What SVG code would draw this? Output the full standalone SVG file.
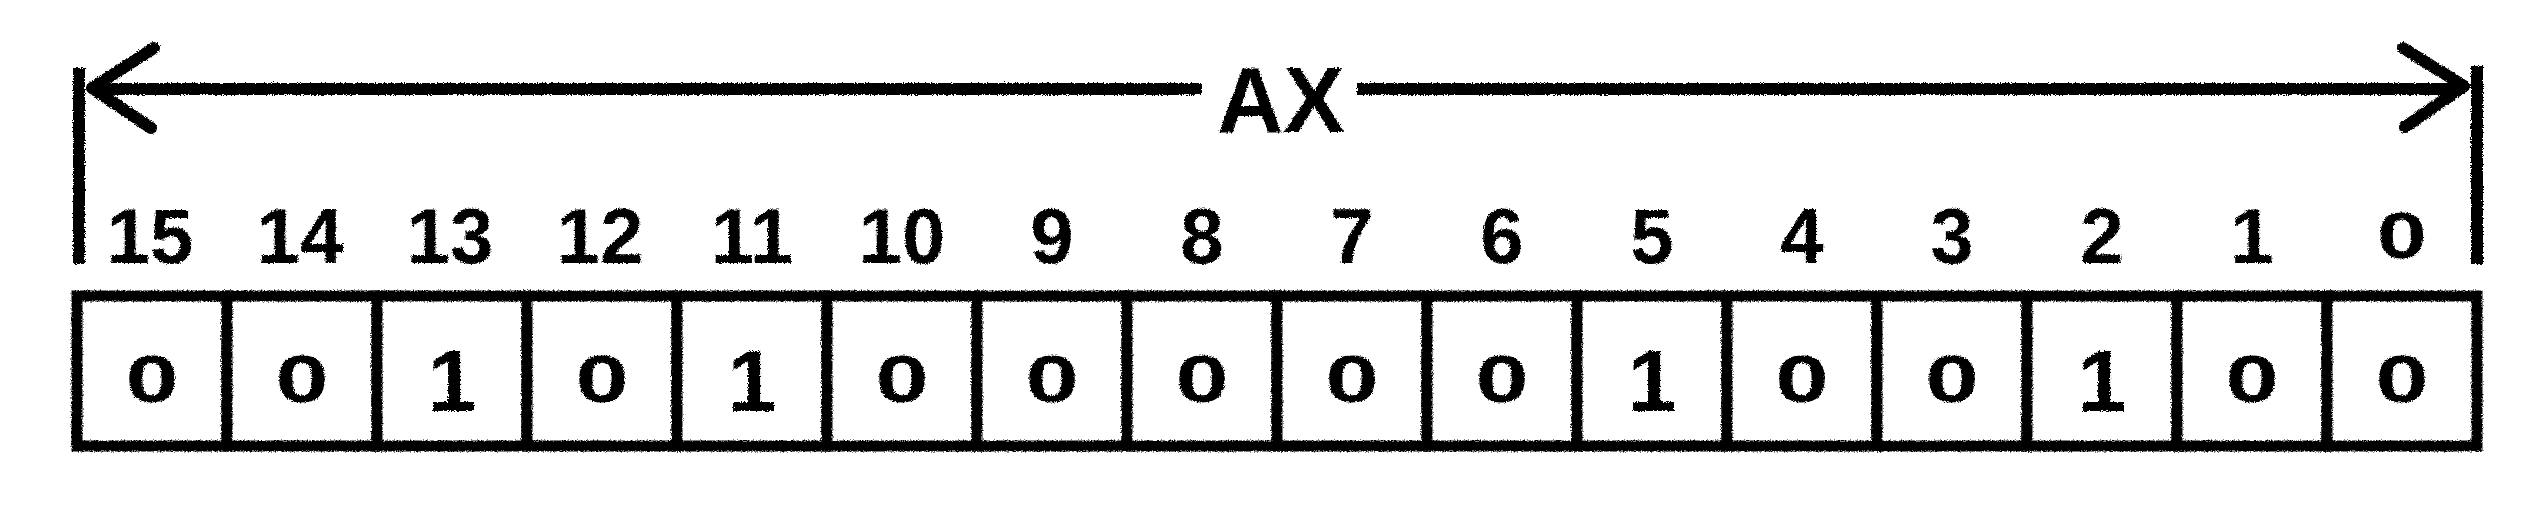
<svg xmlns="http://www.w3.org/2000/svg" width="2536" height="516" viewBox="0 0 2536 516">
<style>
.bg{fill:#ffffff}
.ln{stroke:#000;stroke-width:12;fill:none;stroke-linecap:butt}
.ah{stroke:#000;stroke-width:12;fill:none;stroke-linecap:round;stroke-linejoin:round}
.cell{fill:#fff;stroke:#000;stroke-width:11}
.lbl{font-family:"Liberation Sans",Arial,sans-serif;font-weight:bold;font-size:78px;fill:#000;text-anchor:middle}
.lbl0{font-family:"Liberation Sans",Arial,sans-serif;font-weight:bold;font-size:64px;fill:#000;text-anchor:middle}
.v1{font-family:"Liberation Sans",Arial,sans-serif;font-weight:bold;font-size:88px;fill:#000;text-anchor:middle}
.v0{font-family:"Liberation Sans",Arial,sans-serif;font-weight:bold;font-size:66px;fill:#000;text-anchor:middle}
.title{font-family:"Liberation Sans",Arial,sans-serif;font-weight:bold;font-size:92px;fill:#000;text-anchor:middle}
</style>
<defs>
<filter id="rough" filterUnits="userSpaceOnUse" x="0" y="0" width="2536" height="516">
<feTurbulence type="fractalNoise" baseFrequency="0.7" numOctaves="2" seed="4" result="n"/>
<feDisplacementMap in="SourceGraphic" in2="n" scale="4" xChannelSelector="R" yChannelSelector="G"/>
</filter>
</defs>
<rect class="bg" x="0" y="0" width="2536" height="516"/>
<g filter="url(#rough)">
<g id="connectors">
<line class="ln" x1="79" y1="68" x2="79" y2="264"/>
<line class="ln" x1="2477" y1="66" x2="2477" y2="264"/>
<line class="ln" x1="92" y1="89" x2="1202" y2="89"/>
<line class="ln" x1="1357" y1="89" x2="2462" y2="89"/>
<polyline class="ah" points="154,48 92,88 151,128"/>
<polyline class="ah" points="2403,48 2464,86 2405,127"/>
</g>
<g id="title"><text class="title" x="1281" y="132">AX</text></g>
<g id="bit15"><rect class="cell" x="77" y="296" width="150" height="150"/><text class="lbl" x="150" y="263">15</text><text class="v0" transform="translate(152,402) scale(1.45,1)">0</text></g>
<g id="bit14"><rect class="cell" x="227" y="296" width="150" height="150"/><text class="lbl" x="300" y="263">14</text><text class="v0" transform="translate(302,402) scale(1.45,1)">0</text></g>
<g id="bit13"><rect class="cell" x="377" y="296" width="150" height="150"/><text class="lbl" x="450" y="263">13</text><text class="v1" x="452" y="411">1</text></g>
<g id="bit12"><rect class="cell" x="527" y="296" width="150" height="150"/><text class="lbl" x="600" y="263">12</text><text class="v0" transform="translate(602,402) scale(1.45,1)">0</text></g>
<g id="bit11"><rect class="cell" x="677" y="296" width="150" height="150"/><text class="lbl" x="752" y="263">11</text><text class="v1" x="752" y="411">1</text></g>
<g id="bit10"><rect class="cell" x="827" y="296" width="150" height="150"/><text class="lbl" x="902" y="263">10</text><text class="v0" transform="translate(902,402) scale(1.45,1)">0</text></g>
<g id="bit9"><rect class="cell" x="977" y="296" width="150" height="150"/><text class="lbl" x="1052" y="263">9</text><text class="v0" transform="translate(1052,402) scale(1.45,1)">0</text></g>
<g id="bit8"><rect class="cell" x="1127" y="296" width="150" height="150"/><text class="lbl" x="1202" y="263">8</text><text class="v0" transform="translate(1202,402) scale(1.45,1)">0</text></g>
<g id="bit7"><rect class="cell" x="1277" y="296" width="150" height="150"/><text class="lbl" x="1352" y="263">7</text><text class="v0" transform="translate(1352,402) scale(1.45,1)">0</text></g>
<g id="bit6"><rect class="cell" x="1427" y="296" width="150" height="150"/><text class="lbl" x="1502" y="263">6</text><text class="v0" transform="translate(1502,402) scale(1.45,1)">0</text></g>
<g id="bit5"><rect class="cell" x="1577" y="296" width="150" height="150"/><text class="lbl" x="1652" y="263">5</text><text class="v1" x="1652" y="411">1</text></g>
<g id="bit4"><rect class="cell" x="1727" y="296" width="150" height="150"/><text class="lbl" x="1802" y="263">4</text><text class="v0" transform="translate(1802,402) scale(1.45,1)">0</text></g>
<g id="bit3"><rect class="cell" x="1877" y="296" width="150" height="150"/><text class="lbl" x="1952" y="263">3</text><text class="v0" transform="translate(1952,402) scale(1.45,1)">0</text></g>
<g id="bit2"><rect class="cell" x="2027" y="296" width="150" height="150"/><text class="lbl" x="2102" y="263">2</text><text class="v1" x="2102" y="411">1</text></g>
<g id="bit1"><rect class="cell" x="2177" y="296" width="150" height="150"/><text class="lbl" x="2252" y="263">1</text><text class="v0" transform="translate(2252,402) scale(1.45,1)">0</text></g>
<g id="bit0"><rect class="cell" x="2327" y="296" width="150" height="150"/><text class="lbl0" transform="translate(2402,258) scale(1.4,1)">0</text><text class="v0" transform="translate(2402,402) scale(1.45,1)">0</text></g>
</g>
</svg>
